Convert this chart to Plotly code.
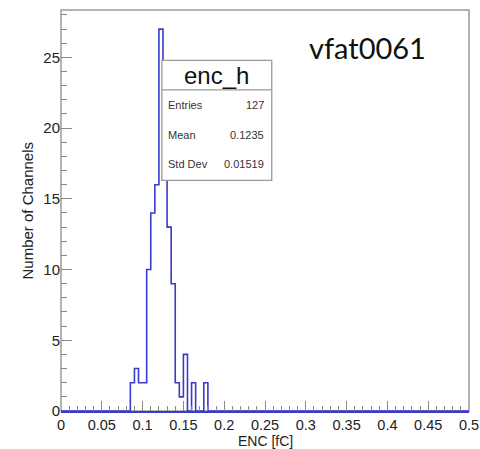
import numpy as np
import plotly.graph_objects as go

# ---- data ----
bin_width = 0.005
x_min, x_max = 0.0, 0.5
first_filled_bin = 0.085
counts_from_first = [2, 3, 2, 2, 10, 14, 16, 27, 18, 13, 9, 2, 1, 4, 0, 2, 0, 0, 2]
y_max = 28.35

stats_title = "enc_h"
stats_labels = ["Entries", "Mean", "Std Dev"]
stats_values = ["127", "0.1235", "0.01519"]
tag_text = "vfat0061"
x_title = "ENC [fC]"
y_title = "Number of Channels"

# ---- build histogram ----
n_bins = int(round((x_max - x_min) / bin_width))
edges = np.linspace(x_min, x_max, n_bins + 1)
counts = np.zeros(n_bins)
start = int(round((first_filled_bin - x_min) / bin_width))
counts[start:start + len(counts_from_first)] = counts_from_first
y_step = np.append(counts, counts[-1])

# ---- layout geometry (pixels) ----
WIDTH, HEIGHT = 480, 449
L, R, T, B = 61, 469.5, 9.5, 410.7
PW, PH = R - L, B - T

def px(x):
    return (x - L) / PW

def py(y):
    return (B - y) / PH

FONT = "Liberation Sans, Arial, sans-serif"
BLUE = "#3a3acc"
GRAY = "#9a9a9a"
TXT = "#222222"

fig = go.Figure()
fig.add_trace(go.Scatter(
    x=edges, y=y_step, mode="lines", line_shape="hv",
    line=dict(color=BLUE, width=1.6), hoverinfo="skip", showlegend=False,
))

fig.update_layout(
    width=WIDTH, height=HEIGHT,
    margin=dict(l=L, r=WIDTH - R, t=T, b=HEIGHT - B, pad=0, autoexpand=False),
    paper_bgcolor="white", plot_bgcolor="white",
    font=dict(family=FONT, size=15, color=TXT),
    showlegend=False,
)

fig.update_xaxes(
    range=[x_min, x_max], tick0=0, dtick=0.05, ticks="inside", ticklen=10,
    tickcolor="#888888", tickwidth=1, showgrid=False, zeroline=False,
    showline=True, linecolor=BLUE, linewidth=1.6, mirror=False, layer="above traces",
    minor=dict(ticks="inside", dtick=0.01, ticklen=5, tickcolor="#888888", showgrid=False),
    tickfont=dict(size=14.5, color=TXT), fixedrange=True,
)
fig.update_yaxes(
    range=[0, y_max], tick0=0, dtick=5, ticks="inside", ticklen=11,
    tickcolor="#888888", tickwidth=1, showgrid=False, zeroline=False,
    showline=False,
    minor=dict(ticks="inside", dtick=1, ticklen=5.5, tickcolor="#888888", showgrid=False),
    tickfont=dict(size=15, color=TXT), fixedrange=True,
)

shapes = [
    # frame
    dict(type="rect", xref="paper", yref="paper", x0=0, x1=1, y0=0, y1=1,
         line=dict(color=GRAY, width=1.5), layer="below"),
    # stats box
    dict(type="rect", xref="paper", yref="paper", x0=px(162), x1=px(272), y0=py(180), y1=py(60),
         line=dict(color=GRAY, width=1.3), fillcolor="white", layer="above"),
    dict(type="line", xref="paper", yref="paper", x0=px(162), x1=px(272), y0=py(89.5), y1=py(89.5),
         line=dict(color=GRAY, width=1.3), layer="above"),
]

annotations = [
    dict(text=x_title, xref="paper", yref="paper", x=0.5, y=py(441), xanchor="center",
         yanchor="middle", showarrow=False, font=dict(size=14, color=TXT)),
    dict(text=y_title, xref="paper", yref="paper", x=px(27), y=0.5, xanchor="center",
         yanchor="middle", textangle=-90, showarrow=False, font=dict(size=15, color=TXT)),
    dict(text=stats_title, xref="paper", yref="paper", x=px(217), y=py(75), xanchor="center",
         yanchor="middle", showarrow=False, font=dict(size=24, color="#111111")),
    dict(text=tag_text, xref="paper", yref="paper", x=px(367.5), y=py(47), xanchor="center",
         yanchor="middle", showarrow=False, font=dict(family="Lato, sans-serif", size=29, color="#111111")),
]
row_y = [105, 135, 164]
for lab, val, yy in zip(stats_labels, stats_values, row_y):
    annotations.append(dict(text=lab, xref="paper", yref="paper", x=px(166), y=py(yy),
                            xanchor="left", yanchor="middle", showarrow=False,
                            font=dict(size=11, color="#333333")))
    annotations.append(dict(text=val, xref="paper", yref="paper", x=px(266), y=py(yy),
                            xanchor="right", yanchor="middle", showarrow=False,
                            font=dict(size=11, color="#333333")))

fig.update_layout(shapes=shapes, annotations=annotations)

fig.write_html("out.html")
